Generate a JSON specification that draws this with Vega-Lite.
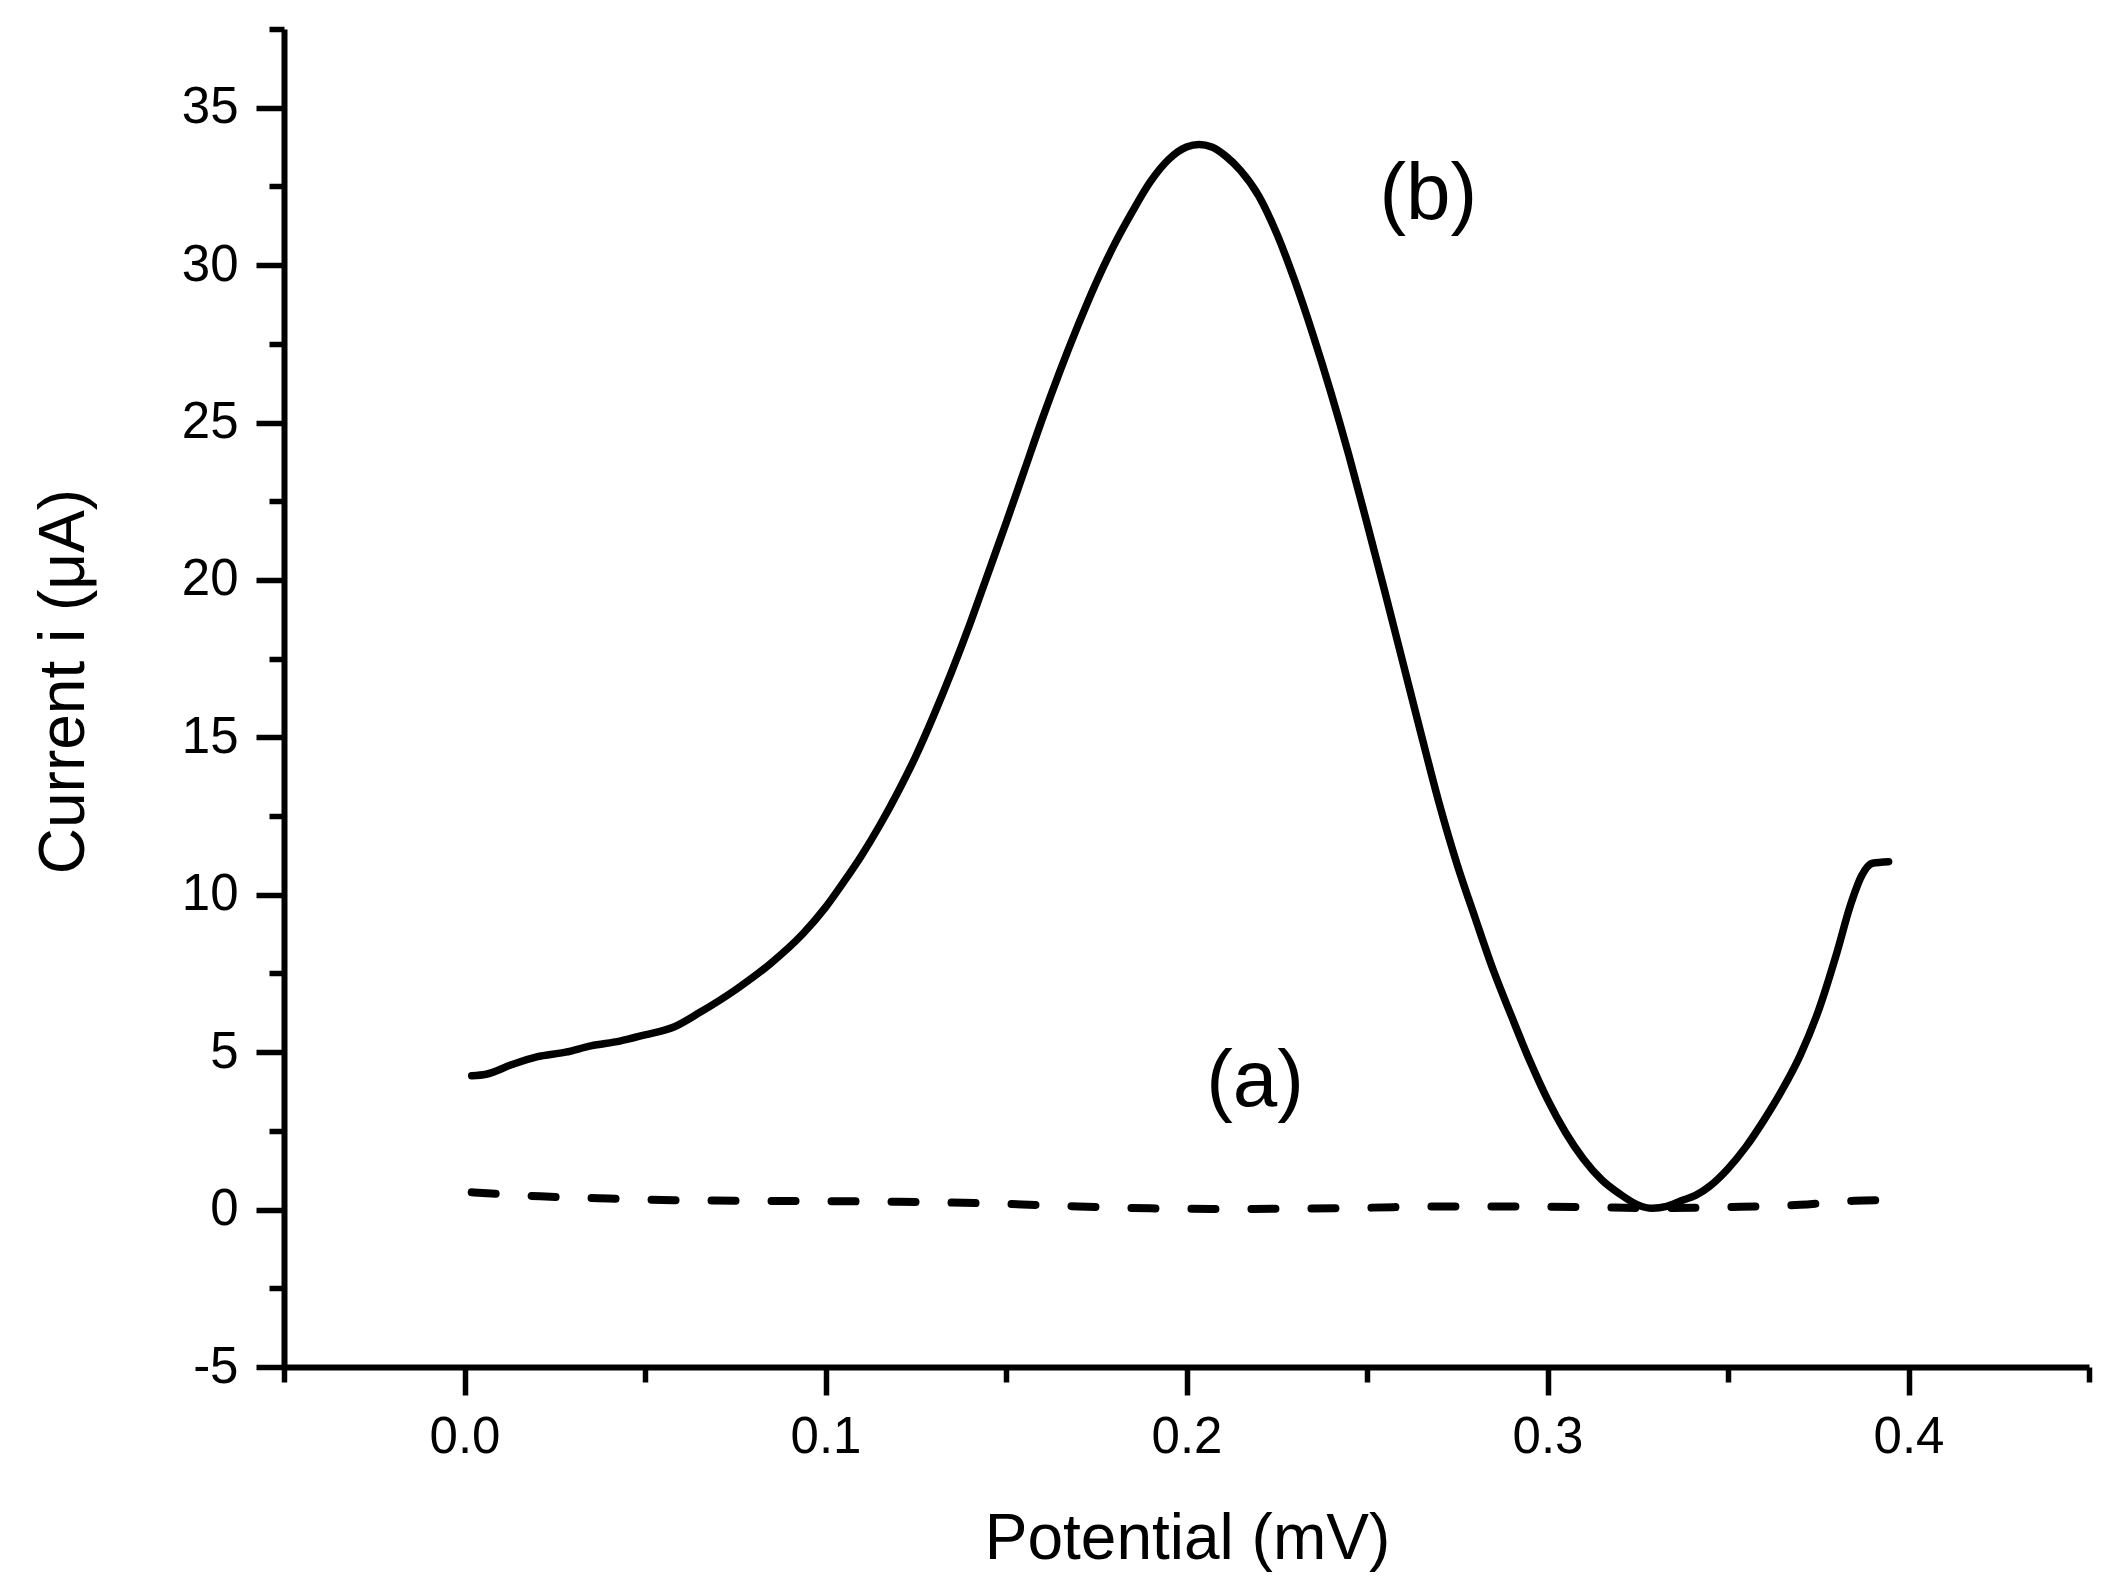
{
  "$schema": "https://vega.github.io/schema/vega-lite/v6.json",
  "width": 1805,
  "height": 1338,
  "autosize": "none",
  "padding": {"left": 284, "top": 29, "right": 18, "bottom": 226},
  "background": "white",
  "config": {
    "view": {"stroke": null},
    "font": "Liberation Sans",
    "axis": {
      "domainColor": "black",
      "domainWidth": 6,
      "tickColor": "black",
      "tickWidth": 5.5,
      "grid": false,
      "labelColor": "black",
      "labelFont": "Liberation Sans",
      "labelFontSize": 51,
      "labelFlush": false,
      "labelOverlap": false,
      "labelBound": false,
      "titleColor": "black",
      "titleFont": "Liberation Sans",
      "titleFontSize": 64,
      "titleFontWeight": "normal"
    }
  },
  "datasets": {
    "curveB": [
      {"potential": 0.002, "current": 4.25},
      {"potential": 0.006, "current": 4.3},
      {"potential": 0.013, "current": 4.6},
      {"potential": 0.02, "current": 4.85},
      {"potential": 0.028, "current": 5.0},
      {"potential": 0.035, "current": 5.2},
      {"potential": 0.043, "current": 5.35},
      {"potential": 0.05, "current": 5.55},
      {"potential": 0.058, "current": 5.8},
      {"potential": 0.065, "current": 6.25},
      {"potential": 0.0753, "current": 7.0},
      {"potential": 0.0846, "current": 7.8},
      {"potential": 0.0938, "current": 8.77},
      {"potential": 0.1, "current": 9.6},
      {"potential": 0.105, "current": 10.4},
      {"potential": 0.11, "current": 11.25},
      {"potential": 0.115, "current": 12.2},
      {"potential": 0.12, "current": 13.25},
      {"potential": 0.125, "current": 14.4},
      {"potential": 0.13, "current": 15.7},
      {"potential": 0.135, "current": 17.1},
      {"potential": 0.14, "current": 18.6},
      {"potential": 0.145, "current": 20.2},
      {"potential": 0.15, "current": 21.8},
      {"potential": 0.155, "current": 23.45},
      {"potential": 0.16, "current": 25.1},
      {"potential": 0.165, "current": 26.65},
      {"potential": 0.17, "current": 28.1},
      {"potential": 0.175, "current": 29.45},
      {"potential": 0.18, "current": 30.65},
      {"potential": 0.185, "current": 31.7},
      {"potential": 0.19, "current": 32.65},
      {"potential": 0.195, "current": 33.35},
      {"potential": 0.2, "current": 33.75},
      {"potential": 0.2035, "current": 33.83},
      {"potential": 0.207, "current": 33.75},
      {"potential": 0.211, "current": 33.45},
      {"potential": 0.215, "current": 33.0},
      {"potential": 0.22, "current": 32.2},
      {"potential": 0.225, "current": 31.0},
      {"potential": 0.23, "current": 29.5},
      {"potential": 0.235, "current": 27.8},
      {"potential": 0.24, "current": 25.95},
      {"potential": 0.245, "current": 23.95},
      {"potential": 0.25, "current": 21.8},
      {"potential": 0.255, "current": 19.6},
      {"potential": 0.26, "current": 17.35},
      {"potential": 0.265, "current": 15.1},
      {"potential": 0.27, "current": 12.9},
      {"potential": 0.275, "current": 10.95},
      {"potential": 0.28, "current": 9.25},
      {"potential": 0.285, "current": 7.6},
      {"potential": 0.29, "current": 6.15},
      {"potential": 0.295, "current": 4.75},
      {"potential": 0.3, "current": 3.5},
      {"potential": 0.305, "current": 2.45},
      {"potential": 0.31, "current": 1.6},
      {"potential": 0.315, "current": 0.95},
      {"potential": 0.32, "current": 0.5},
      {"potential": 0.325, "current": 0.15},
      {"potential": 0.329, "current": 0.04},
      {"potential": 0.333, "current": 0.1},
      {"potential": 0.337, "current": 0.28},
      {"potential": 0.341, "current": 0.45},
      {"potential": 0.345, "current": 0.75},
      {"potential": 0.35, "current": 1.3},
      {"potential": 0.355, "current": 2.0},
      {"potential": 0.36, "current": 2.85},
      {"potential": 0.365, "current": 3.8},
      {"potential": 0.37, "current": 4.9},
      {"potential": 0.375, "current": 6.3},
      {"potential": 0.38, "current": 8.1},
      {"potential": 0.384, "current": 9.7},
      {"potential": 0.387, "current": 10.6},
      {"potential": 0.39, "current": 11.0},
      {"potential": 0.3945, "current": 11.05}
    ],
    "curveA": [
      {"potential": 0.002, "current": 0.55},
      {"potential": 0.021, "current": 0.42},
      {"potential": 0.04, "current": 0.35},
      {"potential": 0.058, "current": 0.3},
      {"potential": 0.075, "current": 0.28},
      {"potential": 0.091, "current": 0.27},
      {"potential": 0.12, "current": 0.25},
      {"potential": 0.15, "current": 0.18},
      {"potential": 0.17, "current": 0.1},
      {"potential": 0.19, "current": 0.04},
      {"potential": 0.21, "current": 0.02},
      {"potential": 0.23, "current": 0.03},
      {"potential": 0.25, "current": 0.06},
      {"potential": 0.27, "current": 0.1},
      {"potential": 0.29, "current": 0.1},
      {"potential": 0.31, "current": 0.08},
      {"potential": 0.33, "current": 0.05},
      {"potential": 0.35, "current": 0.08},
      {"potential": 0.37, "current": 0.15},
      {"potential": 0.385, "current": 0.28},
      {"potential": 0.395, "current": 0.3}
    ],
    "labels": [
      {"potential": 0.267, "current": 31.46, "label": "(b)"},
      {"potential": 0.219, "current": 3.3, "label": "(a)"}
    ]
  },
  "encoding": {
    "x": {
      "field": "potential",
      "type": "quantitative",
      "scale": {"domain": [-0.05, 0.45], "nice": false, "zero": false},
      "axis": {
        "title": "Potential (mV)",
        "values": [-0.05, 0, 0.05, 0.1, 0.15, 0.2, 0.25, 0.3, 0.35, 0.4, 0.45],
        "labelExpr": "abs(datum.value * 10 - round(datum.value * 10)) < 0.001 ? format(datum.value, '.1f') : ''",
        "tickSize": {"condition": {"test": "abs(datum.value * 10 - round(datum.value * 10)) < 0.001", "value": 28}, "value": 15},
        "labelPadding": 17,
        "titleX": 903,
        "titleY": 191,
        "titleAlign": "center",
        "titleBaseline": "alphabetic"
      }
    },
    "y": {
      "field": "current",
      "type": "quantitative",
      "scale": {"domain": [-5, 37.5], "nice": false, "zero": false},
      "axis": {
        "title": "Current i (μA)",
        "values": [-5, -2.5, 0, 2.5, 5, 7.5, 10, 12.5, 15, 17.5, 20, 22.5, 25, 27.5, 30, 32.5, 35, 37.5],
        "labelExpr": "datum.value % 5 === 0 ? '' + datum.value : ''",
        "tickSize": {"condition": {"test": "datum.value % 5 === 0", "value": 28}, "value": 15},
        "labelPadding": 18,
        "titleX": -201,
        "titleY": 652,
        "titleAngle": -90,
        "titleAlign": "center",
        "titleBaseline": "alphabetic"
      }
    }
  },
  "layer": [
    {
      "data": {"name": "curveA"},
      "mark": {"type": "line", "color": "black", "strokeWidth": 8, "strokeDash": [24, 36], "strokeCap": "round", "interpolate": "monotone"}
    },
    {
      "data": {"name": "curveB"},
      "mark": {"type": "line", "color": "black", "strokeWidth": 7.5, "strokeCap": "round", "interpolate": "monotone"}
    },
    {
      "data": {"name": "labels"},
      "mark": {"type": "text", "color": "black", "font": "Liberation Sans", "fontSize": 80, "align": "center", "baseline": "alphabetic"},
      "encoding": {"text": {"field": "label", "type": "nominal"}}
    }
  ]
}
